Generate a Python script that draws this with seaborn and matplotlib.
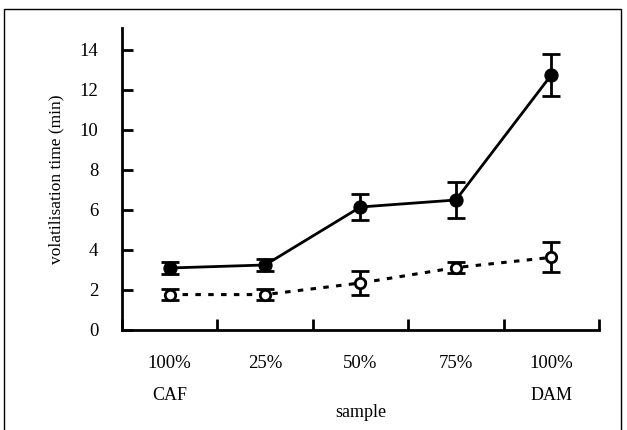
import numpy as np
import pandas as pd
import matplotlib
matplotlib.use("Agg")
import matplotlib.pyplot as plt
from matplotlib.patches import Rectangle
import seaborn as sns

# values
samples = ["100%", "25%", "50%", "75%", "100%"]
ends = ["CAF", "", "", "", "DAM"]
filled_mean = [3.1, 3.25, 6.15, 6.5, 12.75]
filled_err = [0.28, 0.3, 0.63, 0.92, 1.05]
open_mean = [1.77, 1.77, 2.35, 3.12, 3.63]
open_err = [0.26, 0.27, 0.58, 0.27, 0.75]

pos = np.arange(len(samples))
df = pd.DataFrame({
    "pos": np.concatenate([pos, pos]),
    "time": filled_mean + open_mean,
    "series": ["filled"] * len(pos) + ["open"] * len(pos),
})

sns.set_style("ticks", {"axes.edgecolor": "black", "text.color": "black",
                        "xtick.color": "black", "ytick.color": "black",
                        "axes.labelcolor": "black"})
plt.rcParams["font.family"] = ["Liberation Serif", "DejaVu Serif"]

fig = plt.figure(figsize=(6.27, 4.30), dpi=100)
ax = fig.add_axes([0.1946, 0.2326, 0.7607, 0.7023])

# error bars first so open markers sit on top
ax.errorbar(pos, filled_mean, yerr=filled_err, fmt="none", ecolor="black",
            elinewidth=2, capsize=6.5, capthick=2, zorder=2)
ax.errorbar(pos, open_mean, yerr=open_err, fmt="none", ecolor="black",
            elinewidth=2, capsize=6.5, capthick=2, zorder=2)

sns.lineplot(data=df[df.series == "filled"], x="pos", y="time", ax=ax,
             color="black", linewidth=2, marker="o", markersize=9.5,
             markerfacecolor="black", markeredgecolor="black", zorder=3)
sns.lineplot(data=df[df.series == "open"], x="pos", y="time", ax=ax,
             color="black", linewidth=2.2, linestyle=(0, (1.8, 2.4)),
             marker="o", markersize=7.5, markerfacecolor="white",
             markeredgecolor="black", markeredgewidth=2, zorder=3)

ax.set_xlim(-0.5, len(samples) - 0.5)
ax.set_ylim(0, 15.1)
ax.set_yticks(np.arange(0, 15, 2))

# ticks at category boundaries, labels at category centres
ax.set_xticks(np.arange(-0.5, len(samples), 1.0))
ax.set_xticklabels([])
ax.set_xticks(pos, minor=True)
ax.set_xticklabels(samples, minor=True)
ax.tick_params(axis="x", which="major", direction="in", length=8, width=2)
ax.tick_params(axis="x", which="minor", length=0, pad=18, labelsize=13.5)
ax.tick_params(axis="y", direction="in", length=8, width=2, pad=17, labelsize=13.5)

for i, name in enumerate(ends):
    if name:
        ax.text(pos[i], -0.2185, name, transform=ax.get_xaxis_transform(),
                ha="center", va="center", fontsize=13)

ax.set_xlabel("sample", fontsize=13)
ax.xaxis.set_label_coords(0.5, -0.272)
ax.xaxis.label.set_va("center")
ax.set_ylabel("volatilisation time (min)", fontsize=12.5)
ax.yaxis.set_label_coords(-0.138, 0.5)
ax.yaxis.label.set_va("center")

sns.despine(ax=ax)
for side in ["left", "bottom"]:
    ax.spines[side].set_linewidth(2)

fig.patches.append(Rectangle((0.006, -0.05), 0.984, 1.03, transform=fig.transFigure,
                             fill=False, linewidth=1, edgecolor="black"))

fig.savefig("out.png", dpi=100)
